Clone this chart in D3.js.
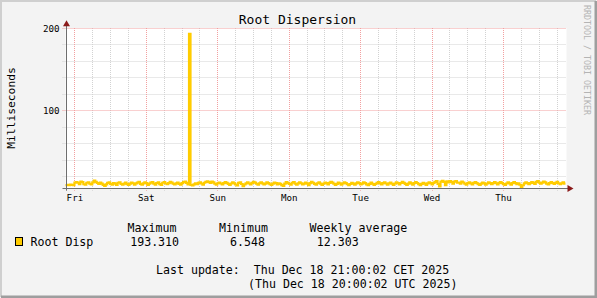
<!DOCTYPE html>
<html>
<head>
<meta charset="utf-8">
<script src="https://cdn.jsdelivr.net/npm/d3@7"></script>
<style>
  html, body { margin: 0; padding: 0; background: #fff; }
  svg { display: block; }
  text { font-family: "DejaVu Sans Mono", monospace; fill: #000; }
</style>
</head>
<body>
<svg id="chart" width="597" height="298"></svg>
<script>
(function () {
  "use strict";

  // half-hour samples, Thu 21:00 -> Thu 21:00 (CET)
  const rootDisp = [
    9.6, 9.9, 9.4, 10.1, 9.8, 9.5, 12.6, 13.1, 12.4, 10.8, 13.9, 13.2, 10.6, 10.1, 12.4, 13.0, 11.2, 10.3, 12.8, 14.9, 13.6, 12.1, 11.0, 12.7,
    11.4, 9.8, 8.6, 10.4, 12.2, 12.9, 11.1, 10.2, 11.9, 11.3, 9.7, 12.4, 12.8, 10.9, 10.0, 11.4, 12.6, 10.8, 9.9, 11.3, 12.7, 11.8, 10.2, 11.6,
    12.5, 13.4, 11.0, 10.1, 11.7, 13.0, 12.0, 9.8, 11.2, 12.6, 13.2, 11.3, 10.2, 12.1, 12.9, 10.7, 9.9, 12.4, 13.3, 11.5, 10.6, 11.9, 13.6, 12.5,
    11.2, 10.3, 11.7, 12.7, 11.1, 10.0, 11.9, 13.1, 13.8, 12.2, 10.4, 193.31, 9.7, 9.2, 10.5, 11.6, 10.7, 12.2, 12.9, 11.5, 10.2, 12.4, 13.4, 14.1,
    13.2, 12.1, 13.9, 12.8, 11.2, 10.2, 11.8, 12.7, 11.5, 10.4, 12.0, 13.3, 12.3, 11.0, 9.9, 11.5, 12.9, 11.6, 10.3, 9.3, 12.3, 13.0, 10.9, 8.2,
    10.3, 11.7, 12.8, 11.5, 10.4, 12.3, 13.5, 12.6, 11.2, 10.1, 11.8, 12.9, 11.6, 10.3, 11.4, 12.8, 12.0, 10.6, 9.8, 11.3, 12.7, 11.9, 10.4, 11.6,
    11.0, 9.5, 8.7, 11.3, 13.1, 12.3, 10.9, 10.0, 12.4, 13.2, 11.2, 10.1, 11.7, 12.9, 11.8, 10.3, 11.3, 12.7, 11.4, 9.6, 12.0, 13.4, 12.4, 11.0,
    10.1, 11.8, 12.8, 11.4, 9.9, 11.2, 12.7, 11.9, 10.4, 12.2, 13.6, 12.6, 11.2, 9.8, 11.1, 12.5, 11.6, 10.2, 11.5, 12.9, 12.0, 10.6, 9.5, 10.9,
    12.3, 11.3, 10.0, 11.6, 13.0, 11.9, 10.3, 11.4, 12.8, 12.0, 10.5, 9.6, 11.1, 12.6, 11.2, 9.9, 10.9, 12.3, 13.3, 11.6, 10.4, 11.9, 13.0, 11.5,
    10.2, 11.6, 12.7, 11.2, 9.9, 11.5, 12.9, 11.9, 10.4, 12.1, 13.5, 12.3, 11.0, 9.8, 11.3, 12.8, 11.7, 10.2, 11.9, 13.1, 12.1, 10.8, 9.6, 11.1,
    12.4, 11.4, 9.9, 11.6, 13.0, 11.9, 10.4, 12.3, 13.6, 14.5, 11.1, 7.9, 13.8, 14.7, 13.6, 9.6, 14.2, 12.9, 14.4, 13.5, 11.4, 13.7, 14.5, 12.6,
    12.5, 11.3, 13.7, 12.7, 11.2, 10.1, 11.9, 13.0, 11.7, 10.5, 12.2, 13.2, 12.0, 10.7, 9.8, 11.4, 12.7, 11.6, 10.2, 11.5, 12.9, 11.9, 10.6, 12.0,
    13.1, 11.8, 10.5, 12.2, 13.3, 12.0, 10.8, 9.7, 11.5, 12.9, 11.6, 10.2, 11.9, 13.2, 12.0, 10.6, 11.7, 10.0, 6.548, 9.4, 11.6, 13.0, 11.9, 10.7,
    12.0, 13.3, 12.2, 11.0, 13.6, 14.3, 12.5, 11.2, 12.6, 13.7, 12.8, 11.4, 10.3, 11.9, 13.2, 12.1, 10.9, 12.3, 13.4, 11.8, 10.6, 11.7, 12.9, 11.4
  ];
  const dayLabels = ["Fri", "Sat", "Sun", "Mon", "Tue", "Wed", "Thu"];
  const dayHours = [3, 27, 51, 75, 99, 123, 147];   // hours after graph start
  const yMajor = [100, 200];
  const yMinor = [20, 40, 60, 80, 120, 140, 160, 180];
  const legendHeads = ["Maximum", "Minimum", "Weekly average"];
  const legendValues = ["193.310", "6.548", "12.303"];
  const updateLines = ["Last update:  Thu Dec 18 21:00:02 CET 2025", "(Thu Dec 18 20:00:02 UTC 2025)"];

  const W = 597, H = 298;
  const x0 = 65.5, x1 = 565.5, yTop = 28.3, yBot = 188.7;
  const lineColor = "#ffcc00";

  const svg = d3.select("#chart");
  const px = v => Math.round(v) + 0.5;

  // frame
  svg.append("rect").attr("width", W).attr("height", H).attr("fill", "#f3f3f3");
  svg.append("path").attr("d", `M1,${H - 1}V1H${W - 1}`).attr("fill", "none").attr("stroke", "#cfcfcf").attr("stroke-width", 2);
  svg.append("path").attr("d", `M1,${H - 1}H${W - 1}V1`).attr("fill", "none").attr("stroke", "#9e9e9e").attr("stroke-width", 3);

  const x = d3.scaleLinear().domain([0, 168]).range([x0, x1]);
  const y = d3.scaleLinear().domain([5.2, 200]).range([yBot, yTop]);

  svg.append("rect")
    .attr("x", x0).attr("y", Math.round(yTop))
    .attr("width", x1 - x0 + 1).attr("height", yBot - Math.round(yTop))
    .attr("fill", "#fff");

  const grid = svg.append("g").attr("fill", "none").attr("stroke-width", 1).attr("stroke-dasharray", "1,1");

  // vertical minor grid every 6 hours
  const minorHours = d3.range(3, 168, 6).filter(h => !dayHours.includes(h));
  grid.selectAll(".vmin").data(minorHours).join("line")
    .attr("x1", d => px(x(d))).attr("x2", d => px(x(d)))
    .attr("y1", Math.round(yTop)).attr("y2", yBot + 2)
    .attr("stroke", "#d2d2d2");
  grid.selectAll(".hmin").data(yMinor).join("line")
    .attr("x1", x0 - 3).attr("x2", x1 + 1)
    .attr("y1", d => px(y(d) - 0.5)).attr("y2", d => px(y(d) - 0.5))
    .attr("stroke", "#d2d2d2");
  grid.selectAll(".vmaj").data(dayHours).join("line")
    .attr("x1", d => px(x(d))).attr("x2", d => px(x(d)))
    .attr("y1", Math.round(yTop)).attr("y2", yBot + 2)
    .attr("stroke", "#f2a0a0");
  grid.selectAll(".hmaj").data(yMajor).join("line")
    .attr("x1", x0 - 3).attr("x2", x1 + 1)
    .attr("y1", d => px(y(d) - 0.5)).attr("y2", d => px(y(d) - 0.5))
    .attr("stroke", "#f2a0a0");

  // data line
  const line = d3.line()
    .x((d, i) => x0 + (i / rootDisp.length) * (x1 - x0))
    .y(d => y(d))
    .curve(d3.curveStepAfter);
  svg.append("path")
    .datum(rootDisp.concat([rootDisp[rootDisp.length - 1]]))
    .attr("d", line)
    .attr("fill", "none")
    .attr("stroke", lineColor)
    .attr("stroke-width", 2.2);

  // axes
  const axisY = px(yBot - 0.5);
  svg.append("line").attr("x1", x0 - 3).attr("x2", x1 + 3).attr("y1", axisY).attr("y2", axisY)
    .attr("stroke", "#6e6e6e");
  svg.append("line").attr("x1", px(x0 + 0.5)).attr("x2", px(x0 + 0.5)).attr("y1", yBot + 2).attr("y2", yTop - 3)
    .attr("stroke", "#6e6e6e");
  svg.append("path")
    .attr("d", `M${x1 + 2},${axisY - 3.5}L${x1 + 8},${axisY}L${x1 + 2},${axisY + 3.5}Z`)
    .attr("fill", "#8b1a1a");
  const ax = px(x0 + 0.5);
  svg.append("path")
    .attr("d", `M${ax - 3.5},${yTop - 2}L${ax},${yTop - 8}L${ax + 3.5},${yTop - 2}Z`)
    .attr("fill", "#8b1a1a");

  // tick labels
  svg.selectAll(".ylab").data(yMajor).join("text")
    .attr("x", 59.5).attr("y", d => y(d) + 3.3)
    .attr("text-anchor", "end").attr("font-size", 9.2)
    .text(d => d);
  svg.selectAll(".xlab").data(dayLabels).join("text")
    .attr("x", (d, i) => x(dayHours[i]) + 0.5).attr("y", 201)
    .attr("text-anchor", "middle").attr("font-size", 9.2)
    .text(d => d);

  // title, axis label, watermark
  svg.append("text").attr("x", 297.5).attr("y", 23.5).attr("text-anchor", "middle")
    .attr("font-size", 13).text("Root Dispersion");
  svg.append("text").attr("transform", "translate(15,108) rotate(-90)")
    .attr("text-anchor", "middle").attr("font-size", 11.3).text("Milliseconds");
  svg.append("text").attr("transform", "translate(584,5) rotate(90)")
    .attr("font-size", 8.3).style("fill", "#b4b4b4").text("RRDTOOL / TOBI OETIKER");

  // legend
  const fs = 11.6;
  const headX = [127.6, 219, 309.6];
  const valX = [130.2, 230, 316.8];
  svg.selectAll(".lhead").data(legendHeads).join("text")
    .attr("x", (d, i) => headX[i]).attr("y", 232).attr("font-size", fs).text(d => d);
  svg.append("rect").attr("x", 15.5).attr("y", 237.5).attr("width", 7).attr("height", 8)
    .attr("fill", lineColor).attr("stroke", "#000");
  svg.append("text").attr("x", 30.5).attr("y", 246).attr("font-size", fs).text("Root Disp");
  svg.selectAll(".lval").data(legendValues).join("text")
    .attr("x", (d, i) => valX[i]).attr("y", 246).attr("font-size", fs).text(d => d);
  svg.selectAll(".upd").data(updateLines).join("text")
    .attr("x", (d, i) => i === 0 ? 156 : 248).attr("y", (d, i) => i === 0 ? 274.3 : 288)
    .attr("font-size", fs).style("white-space", "pre").text(d => d);
})();
</script>
</body>
</html>
